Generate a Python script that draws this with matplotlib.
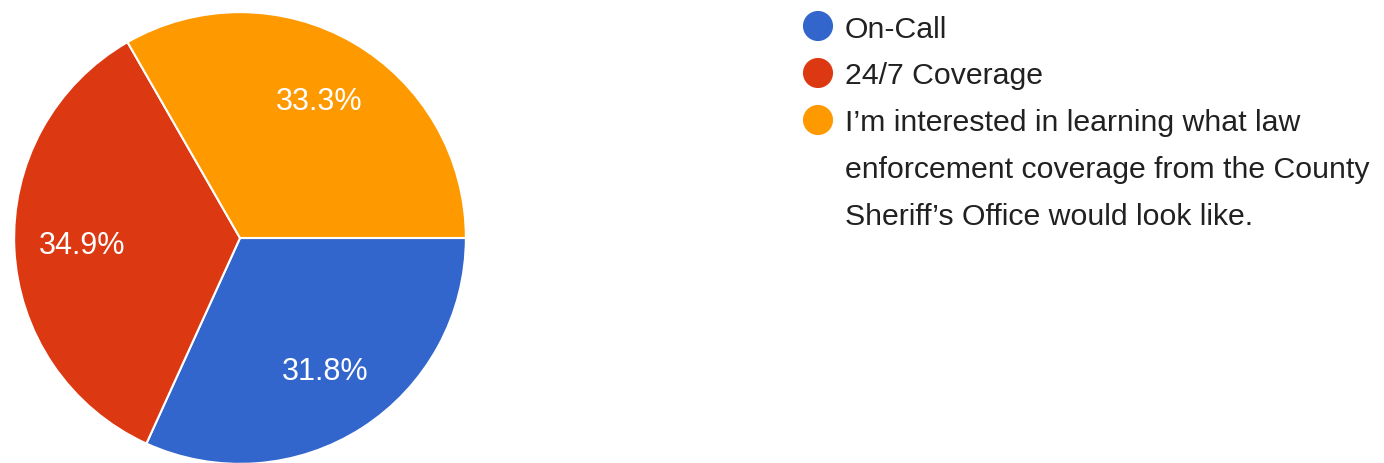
import matplotlib.pyplot as plt

plt.rcParams['font.family'] = ['Liberation Sans', 'DejaVu Sans']

# Survey answers
labels = [
    "On-Call",
    "24/7 Coverage",
    "I\u2019m interested in learning what law\nenforcement coverage from the County\nSheriff\u2019s Office would look like.",
]
shares = [31.8, 34.9, 33.3]
colors = ["#3366CC", "#DC3912", "#FF9900"]

W, H = 1384, 464
fig = plt.figure(figsize=(W / 100, H / 100), dpi=100)

# pie: centre ~ (240, 239) px, radius ~ 227 px
cx, cy, r = 240, 239, 227
ax = fig.add_axes([(cx - r) / W, (H - cy - r) / H, 2 * r / W, 2 * r / H])
wedges, texts, autotexts = ax.pie(
    shares, colors=colors, startangle=0, counterclock=False,
    autopct="%.1f%%", pctdistance=0.70, radius=1.0,
    wedgeprops=dict(edgecolor="white", linewidth=1.5),
    textprops=dict(color="white", fontsize=22),
)
ax.set_xlim(-1.005, 1.005)
ax.set_ylim(-1.005, 1.005)
ax.axis("off")

# legend drawn on an overlay in pixel units, marker on the first line
lg = fig.add_axes([0, 0, 1, 1], zorder=-1)
lg.set_xlim(0, W)
lg.set_ylim(H, 0)
lg.axis("off")
row = 0
for lab, c in zip(labels, colors):
    y0 = 27 + 47 * row
    lg.scatter([818], [y0], s=470, color=c, edgecolors="none")
    for k, line in enumerate(lab.split("\n")):
        lg.text(845, y0 + 47 * k + 10.5, line, fontsize=21.8, color="#212121",
                va="baseline", ha="left")
    row += lab.count("\n") + 1

fig.savefig("out.png", dpi=100)
